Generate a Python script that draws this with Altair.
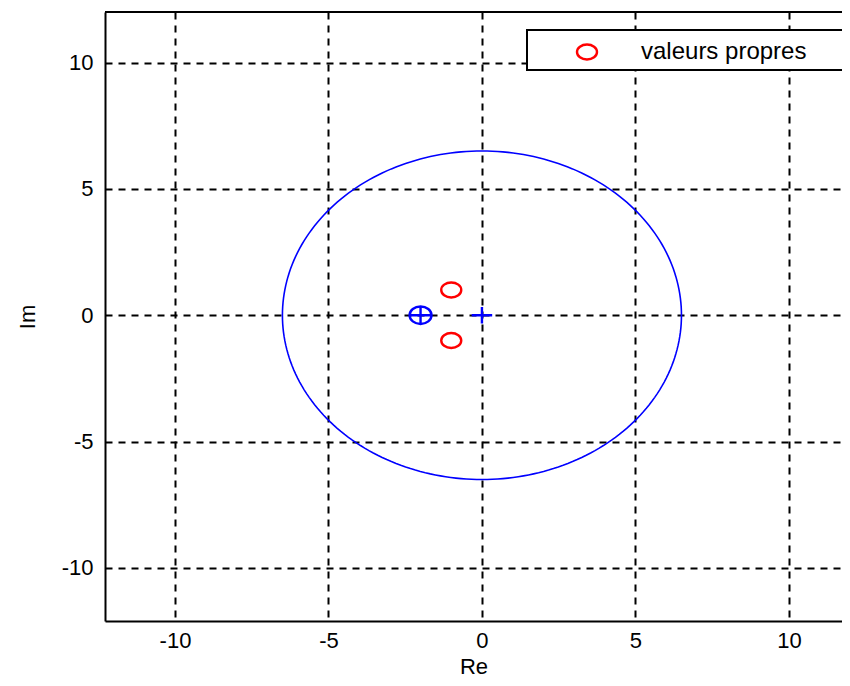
import altair as alt
import numpy as np
import pandas as pd

# ---- data ----
eig_re = [-1.0, -1.0]
eig_im = [1.0, -1.0]
plus_re = [0.0, -2.0]
plus_im = [0.0, 0.0]
ring_re = [-2.0]
ring_im = [0.0]
circle_radius = 6.5
ticks = [-10, -5, 0, 5, 10]
legend_label = "valeurs propres"

theta = np.linspace(0, 2 * np.pi, 241)
circ = pd.DataFrame({"re": circle_radius * np.cos(theta),
                     "im": circle_radius * np.sin(theta),
                     "i": np.arange(len(theta))})
eig = pd.DataFrame({"re": eig_re, "im": eig_im, "lab": [legend_label] * len(eig_re)})
plus = pd.DataFrame({"re": plus_re, "im": plus_im})
ring = pd.DataFrame({"re": ring_re, "im": ring_im})

W, H = 737, 609
xs = alt.Scale(domain=[-12.28, 11.73], nice=False, zero=False)
ys = alt.Scale(domain=[-12.1, 12.0], nice=False, zero=False)
lab_expr = "toString(datum.value)"
X = alt.X("re:Q", scale=xs, title="Re", axis=alt.Axis(values=ticks, labelExpr=lab_expr))
Y = alt.Y("im:Q", scale=ys, title="Im", axis=alt.Axis(values=ticks, labelExpr=lab_expr))

circle_path = "M-1,0A1,0.75,0,1,1,1,0A1,0.75,0,1,1,-1,0Z"
ring_path = "M-1,0A1,0.8,0,1,1,1,0A1,0.8,0,1,1,-1,0Z"
plus_path = "M-1,0L1,0M0,-0.8L0,0.8"

line = alt.Chart(circ).mark_line(color="#0000ff", strokeWidth=1.6).encode(
    x=X, y=Y, order="i:Q")
pl = alt.Chart(plus).mark_point(shape=plus_path, size=420, color="#0000ff", opacity=1,
                                strokeWidth=2.4, filled=False).encode(x=X, y=Y)
rg = alt.Chart(ring).mark_point(shape=ring_path, size=480, color="#0000ff", opacity=1,
                                strokeWidth=2.4, filled=False).encode(x=X, y=Y)

frame = alt.Chart(pd.DataFrame({"a": [0]})).mark_rect(
    fill="white", stroke="black", strokeWidth=2).encode(
    x=alt.value(422), x2=alt.value(740), y=alt.value(18), y2=alt.value(58))

ev = alt.Chart(eig).mark_point(shape=circle_path, size=400, strokeWidth=2.4, opacity=1,
                               filled=False).encode(
    x=X, y=Y,
    color=alt.Color("lab:N", scale=alt.Scale(domain=[legend_label], range=["#ff0000"]),
                    legend=alt.Legend(title=None, orient="none", legendX=422, legendY=18,
                                      padding=10, symbolType=circle_path, symbolSize=400,
                                      symbolStrokeWidth=2.4, symbolOffset=38,
                                      symbolOpacity=1, labelLimit=400,
                                      labelOffset=42, labelFontSize=24,
                                      labelFont="Liberation Sans", labelColor="black")))

top = alt.Chart(pd.DataFrame({"a": [0]})).mark_rule(color="black", strokeWidth=2).encode(
    x=alt.value(0), x2=alt.value(W), y=alt.value(0))

chart = alt.layer(line, pl, rg, frame, ev, top).properties(
    width=W, height=H,
    autosize=alt.AutoSizeParams(type="none"),
    padding={"left": 97, "top": 4, "right": 0, "bottom": 60},
).configure_view(stroke=None).configure_axis(
    grid=True, gridColor="black", gridDash=[7, 6], gridWidth=2, gridOpacity=1,
    domainColor="black", domainWidth=2, ticks=False,
    labelFont="Liberation Sans", labelFontSize=22, labelColor="black",
    titleFont="Liberation Sans", titleFontSize=22, titleFontWeight="normal", titleColor="black",
).configure_axisX(labelPadding=9, titlePadding=5).configure_axisY(
    labelPadding=12, titlePadding=22)

chart.save("out.html", embed_options={"renderer": "svg", "actions": False})
